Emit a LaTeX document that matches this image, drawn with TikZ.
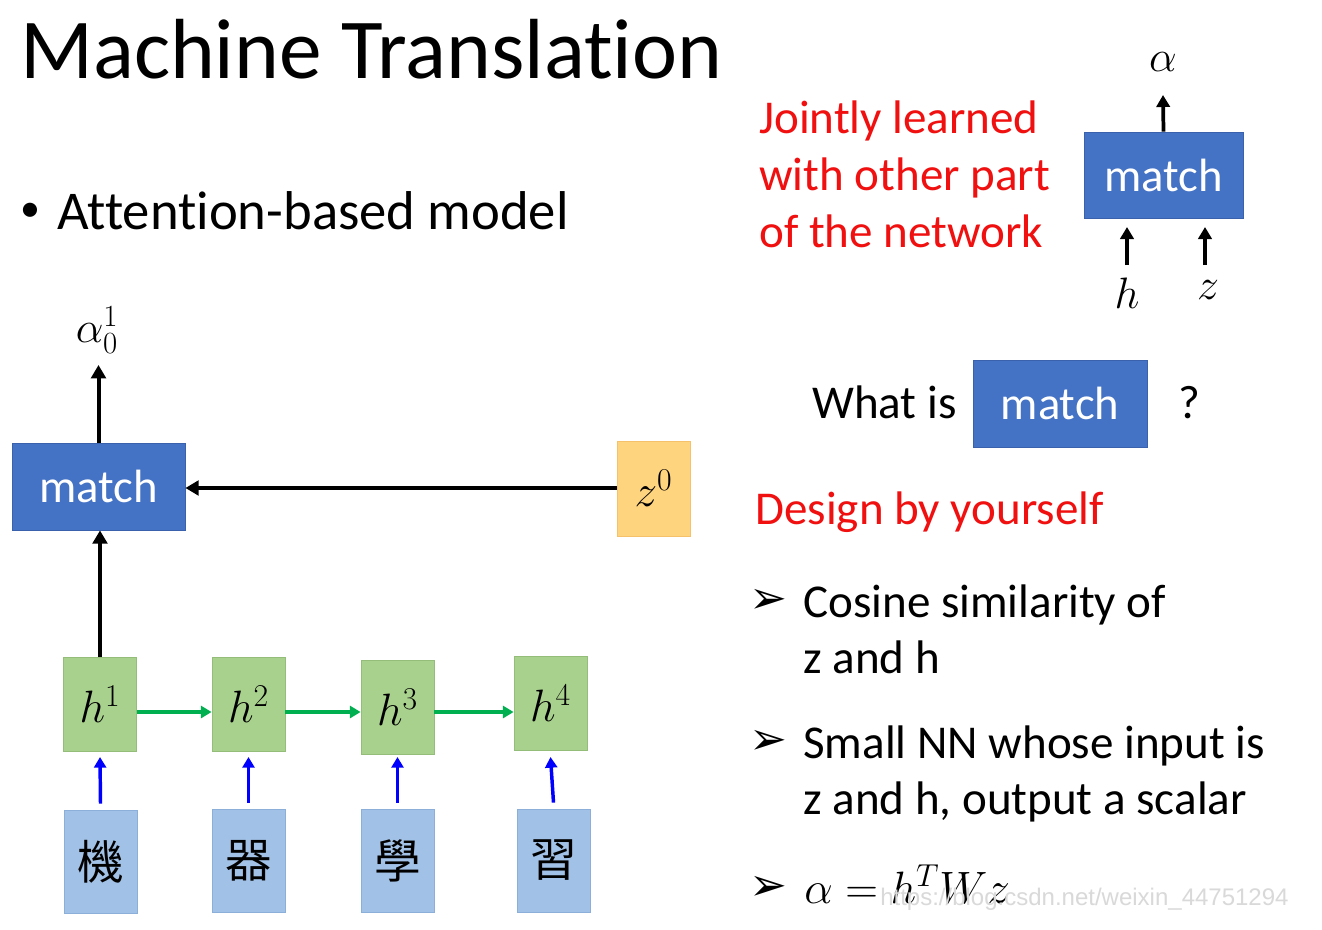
\documentclass[tikz,border=0pt]{standalone}
\usepackage{fix-cm}
\usepackage{fontspec}
\setmainfont[Ligatures={NoCommon}]{Carlito}
\newfontfamily\cjk{Noto Sans CJK TC}
\newfontfamily\dejavu{DejaVu Sans}
\newfontfamily\wmfont{Liberation Sans}
\usetikzlibrary{arrows.meta}
\definecolor{matchblue}{HTML}{4472C4}
\definecolor{matchedge}{HTML}{3A62AC}
\definecolor{hgreen}{HTML}{A9D18E}
\definecolor{hgreenedge}{HTML}{93BD78}
\definecolor{inblue}{HTML}{A2C1E6}
\definecolor{inblueedge}{HTML}{8CAFD9}
\definecolor{zorange}{HTML}{FFD47F}
\definecolor{zorangeedge}{HTML}{F5C26B}
\definecolor{arrgreen}{HTML}{00B050}
\definecolor{txtred}{HTML}{F01010}
\begin{document}
\begin{tikzpicture}[x=0.75pt,y=-0.75pt,
  matchbox/.style={fill=matchblue,draw=matchedge,line width=0.6pt,text=white,inner sep=0pt,font=\fontsize{35}{40}\selectfont},
  hbox/.style={fill=hgreen,draw=hgreenedge,line width=0.6pt,inner sep=0pt,minimum width=54.75pt,minimum height=70.5pt,font=\fontsize{34}{40}\selectfont},
  inbox/.style={fill=inblue,draw=inblueedge,line width=0.6pt,inner sep=0pt,minimum width=54.75pt,minimum height=77.25pt,font=\cjk\fontsize{35}{40}\selectfont},
  blackarr/.style={line width=3pt,-{Triangle[length=10pt,width=11pt]}},
  greenarr/.style={arrgreen,line width=2.6pt,-{Triangle[length=8pt,width=9pt]}},
  bluearr/.style={blue,line width=2.6pt,-{Triangle[length=8pt,width=9pt]}},
  smallarr/.style={line width=2.8pt,-{Triangle[length=9pt,width=10pt]}},
  txt/.style={inner sep=0pt,anchor=base west,font=\fontsize{35.3}{42}\selectfont},
  redtxt/.style={txt,text=txtred},
  mathlbl/.style={inner sep=0pt,font=\fontsize{33}{40}\selectfont},
  arrowbul/.style={inner sep=0pt,font=\dejavu\fontsize{34}{40}\selectfont}]
\useasboundingbox (0,0) rectangle (1322,929);
\fill[white] (0,0) rectangle (1322,929);

% title and bullet
\node[txt,font=\fontsize{64}{76}\selectfont] (title) at (20,78) {Machine Translation};
\node[inner sep=0pt,font=\fontsize{30}{36}\selectfont] (dot) at (30,212) {\textbullet};
\node[txt,font=\fontsize{41}{48}\selectfont] (bul) at (57,229) {Attention-based model};

% left diagram
\node[matchbox,minimum width=129.75pt,minimum height=65.25pt] (m1) at (98.5,486.5) {match};
\node[mathlbl] (a01) at (97,330) {$\alpha_0^1$};
\node[fill=zorange,draw=zorangeedge,line width=0.6pt,inner sep=0pt,minimum width=54.75pt,minimum height=71.25pt,font=\fontsize{34}{40}\selectfont] (z0) at (653.5,488.5) {$z^0$};

\node[hbox] (h1) at (100,704) {$h^1$};
\node[hbox] (h2) at (248.5,704) {$h^2$};
\node[hbox] (h3) at (397.5,707.5) {$h^3$};
\node[hbox] (h4) at (550.5,703) {$h^4$};

\node[inbox] (c1) at (100.5,861.5) {機};
\node[inbox] (c2) at (248.5,860.5) {器};
\node[inbox] (c3) at (397.5,860.5) {學};
\node[inbox] (c4) at (553.5,860.5) {習};

\draw[blackarr] (m1.north) -- (m1.north |- 0,365);
\draw[blackarr] (z0.west |- 0,488) -- (m1.east |- 0,488);
\draw[blackarr] (h1.north) -- (h1.north |- m1.south);

\draw[greenarr] (h1.east |- 0,712) -- (h2.west |- 0,712);
\draw[greenarr] (h2.east |- 0,712) -- (h3.west |- 0,712);
\draw[greenarr] (h3.east |- 0,712) -- (h4.west |- 0,712);

\draw[bluearr] (c1.north) ++(0,-6) -- (h1.south |- 0,757);
\draw[bluearr] (c2.north) ++(0,-6) -- (h2.south |- 0,757);
\draw[bluearr] (c3.north) ++(0,-6) -- (h3.south |- 0,757);
\draw[bluearr] (c4.north) ++(0,-6) -- (h4.south |- 0,757);

% top right
\node[redtxt] (r1) at (759,133) {Jointly learned};
\node[redtxt] (r2) at (759,190) {with other part};
\node[redtxt] (r3) at (759,247) {of the network};

\node[matchbox,minimum width=119.25pt,minimum height=64.5pt] (m2) at (1163.5,175) {match};
\node[mathlbl] (alpha) at (1163,62) {$\alpha$};
\node[mathlbl] (hh) at (1127,293) {$h$};
\node[mathlbl] (zz) at (1208,290) {$z$};
\draw[smallarr] (m2.north) -- (1163,95);
\coordinate (hs) at (1127,265);
\coordinate (zs) at (1205,265);
\draw[smallarr] (hs) -- (1127,227);
\draw[smallarr] (zs) -- (1205,227);

% what is match
\node[txt] (what) at (812,418) {What is};
\node[matchbox,minimum width=130.5pt,minimum height=65.25pt] (m3) at (1060,403.5) {match};
\node[txt] (q) at (1178,418) {?};

\node[redtxt] (design) at (755,524) {Design by yourself};

% bullets
\node[arrowbul] (b1) at (768,601) {➢};
\node[txt] (l1) at (803,617) {Cosine similarity of};
\node[txt] (l2) at (803,673) {z and h};
\node[arrowbul] (b2) at (768,742) {➢};
\node[txt] (l3) at (803,758) {Small NN whose input is};
\node[txt] (l4) at (803,814) {z and h, output a scalar};
\node[arrowbul] (b3) at (768,888) {➢};
\node[txt,font=\fontsize{34}{40}\selectfont] (l5) at (804,903) {$\alpha = h^T W z$};

% watermark
\node[inner sep=0pt,anchor=base west,text=black!15,font=\wmfont\fontsize{18}{22}\selectfont] (wm) at (880,905) {https://blog.csdn.net/weixin\_44751294};
\end{tikzpicture}
\end{document}
